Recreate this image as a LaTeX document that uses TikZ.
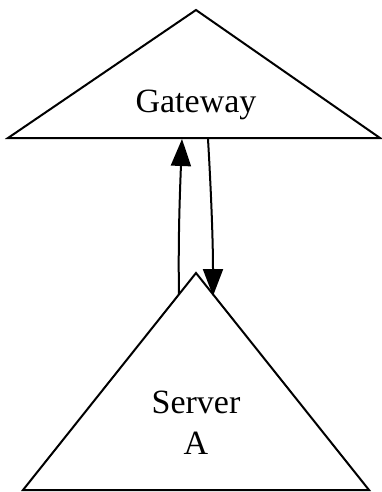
\documentclass[tikz,border=0pt]{standalone}
\usepackage{fontspec}
\setmainfont{Liberation Serif}
\usetikzlibrary{arrows.meta}
\tikzset{
  lbl/.style={font=\fontsize{34}{41}\selectfont, align=center, inner sep=0pt},
  tip/.style={-{Triangle[length=27pt,width=20pt]}}
}
\begin{document}
\begin{tikzpicture}[x=1pt,y=-1pt,line width=2pt]
	\useasboundingbox (0,0) rectangle (381,492);
	% triangles
	\draw[line join=miter] (196,10)--(380,138)--(8,138)--cycle;
	\draw[line join=miter] (196,273)--(369,490)--(23,490)--cycle;
	\path (196,113)node[lbl,anchor=base](gw){Gateway}
	(196,454)node[lbl,anchor=base](srv){Server\\A};
	% ports on the triangle edges
	\coordinate (srvout) at (179,295);
	\coordinate (gwin) at (182,139);
	\coordinate (gwout) at (208,139);
	\coordinate (srvin) at (213,296);
	\draw[tip] (srvout) .. controls (178,240) and (180,190) .. (gwin);
	\draw[tip] (gwout) .. controls (211,190) and (213,240) .. (srvin);
\end{tikzpicture}
\end{document}
